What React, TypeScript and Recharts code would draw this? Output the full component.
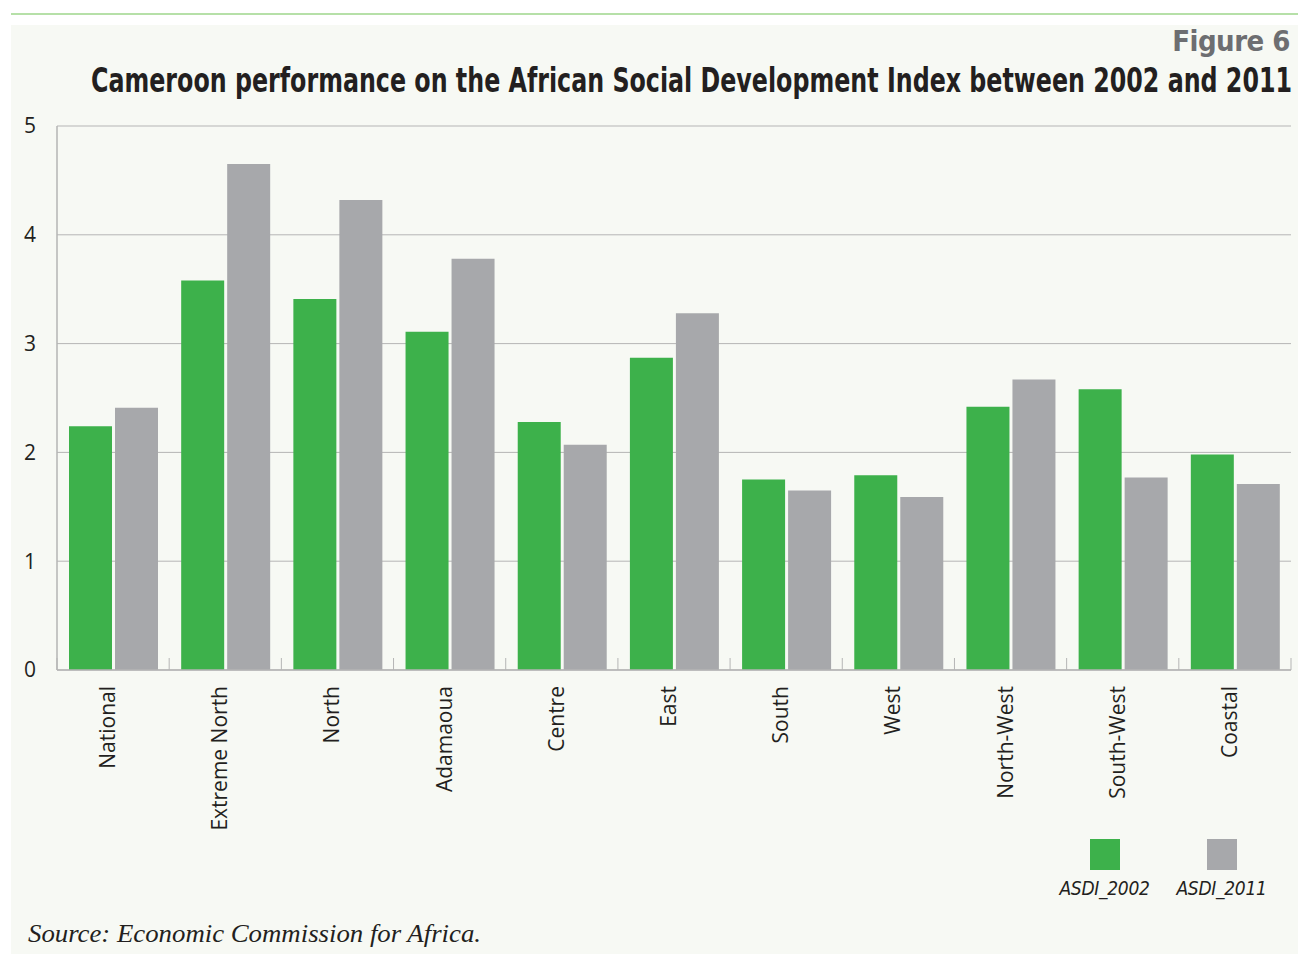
import React from "react";
import { BarChart, Bar, XAxis, YAxis, CartesianGrid } from "recharts";

const regions = [
  "National",
  "Extreme North",
  "North",
  "Adamaoua",
  "Centre",
  "East",
  "South",
  "West",
  "North-West",
  "South-West",
  "Coastal",
];
const asdi2002 = [2.24, 3.58, 3.41, 3.11, 2.28, 2.87, 1.75, 1.79, 2.42, 2.58, 1.98];
const asdi2011 = [2.41, 4.65, 4.32, 3.78, 2.07, 3.28, 1.65, 1.59, 2.67, 1.77, 1.71];
const yTicks = [0, 1, 2, 3, 4, 5];
const seriesNames = ["ASDI_2002", "ASDI_2011"];

const GREEN = "#3db14b";
const GREY = "#a7a8ab";
const AXIS = "#b5b5b5";
const INK = "#231f20";
const SANS = "'Open Sans', 'Noto Sans', sans-serif";
const NARROW = "'Liberation Sans Narrow', 'DejaVu Sans Condensed', sans-serif";
const seriesColors = [GREEN, GREY];
const LABEL_GAP = 16;
const SEP_TICK = 12;

const data = regions.map((region, i) => ({
  region,
  asdi2002: asdi2002[i],
  asdi2011: asdi2011[i],
}));

interface TickProps {
  x?: number;
  y?: number;
  width?: number;
  index?: number;
  visibleTicksCount?: number;
  payload?: { value: string; offset?: number };
}

// rotated region name + the small upward separator ticks between categories
const RegionTick = ({ x = 0, y = 0, width = 0, index = 0, visibleTicksCount = 1, payload }: TickProps) => {
  const half = payload?.offset ?? width / visibleTicksCount / 2;
  const axisY = y - LABEL_GAP;
  return (
    <g>
      <line x1={x - half} x2={x - half} y1={axisY} y2={axisY - SEP_TICK} stroke={AXIS} strokeWidth={1} />
      {index === visibleTicksCount - 1 && (
        <line x1={x + half} x2={x + half} y1={axisY} y2={axisY - SEP_TICK} stroke={AXIS} strokeWidth={1} />
      )}
      <text
        transform={`translate(${x - 6},${y}) rotate(-90)`}
        textAnchor="end"
        dominantBaseline="central"
        fontSize={21}
        fontFamily={SANS}
        fill={INK}
      >
        {payload?.value}
      </text>
    </g>
  );
};

// legend sits bottom right, squares above italic labels
const ChartLegend = () => (
  <div style={{ position: "absolute", left: 1046, top: 839, display: "flex" }}>
    {seriesNames.map((name, i) => (
      <div
        key={name}
        style={{ width: 117, display: "flex", flexDirection: "column", alignItems: "center" }}
      >
        <div style={{ width: 30, height: 31, background: seriesColors[i] }} />
        <span
          style={{
            marginTop: 8,
            fontFamily: NARROW,
            fontStyle: "italic",
            fontSize: 19,
            lineHeight: "21px",
            color: INK,
            letterSpacing: -0.3,
          }}
        >
          {name}
        </span>
      </div>
    ))}
  </div>
);

const App = () => {
  return (
    <div
      style={{
        position: "absolute",
        left: 0,
        top: 0,
        width: 1298,
        height: 954,
        background: "#ffffff",
        overflow: "hidden",
      }}
    >
      <div style={{ position: "absolute", left: 11, top: 13, width: 1287, height: 2, background: "#b6e0a8" }} />
      <div style={{ position: "absolute", left: 11, top: 25, width: 1287, height: 929, background: "#f7f9f4" }} />

      <div
        style={{
          position: "absolute",
          right: 8,
          top: 24,
          fontFamily: NARROW,
          fontWeight: "bold",
          fontSize: 29,
          lineHeight: "34px",
          color: "#6d6e71",
          letterSpacing: -0.5,
          whiteSpace: "nowrap",
        }}
      >
        Figure 6
      </div>

      <div style={{ position: "absolute", left: 0, top: 0 }}>
        <BarChart
          width={1298}
          height={954}
          data={data}
          margin={{ top: 126, right: 7, bottom: 283, left: 0 }}
          barCategoryGap={12}
          barGap={3}
        >
          <CartesianGrid horizontal vertical={false} stroke={AXIS} strokeWidth={1} />
          <XAxis
            dataKey="region"
            height={1}
            interval={0}
            axisLine={{ stroke: AXIS, strokeWidth: 1.5 }}
            tickLine={false}
            tickSize={0}
            tickMargin={LABEL_GAP}
            tick={<RegionTick />}
          />
          <YAxis
            width={57}
            domain={[0, 5]}
            ticks={yTicks}
            interval={0}
            axisLine={{ stroke: AXIS, strokeWidth: 1.5 }}
            tickLine={false}
            tickMargin={15}
            tick={{ fontSize: 21, fill: INK, fontFamily: SANS }}
          />
          <Bar dataKey="asdi2002" name={seriesNames[0]} fill={GREEN} isAnimationActive={false} />
          <Bar dataKey="asdi2011" name={seriesNames[1]} fill={GREY} isAnimationActive={false} />
        </BarChart>
      </div>

      <ChartLegend />

      <svg
        width={1298}
        height={954}
        style={{ position: "absolute", left: 0, top: 0, pointerEvents: "none" }}
      >
        <text
          transform="translate(91 92) scale(0.76 1)"
          fontFamily={NARROW}
          fontWeight="bold"
          fontSize={34}
          fill={INK}
          textLength={1201 / 0.76}
          lengthAdjust="spacingAndGlyphs"
        >
          Cameroon performance on the African Social Development Index between 2002 and 2011
        </text>
        <text
          x={28}
          y={942}
          fontFamily="'Liberation Serif', 'DejaVu Serif', serif"
          fontStyle="italic"
          fontSize={25}
          fill={INK}
          textLength={453}
          lengthAdjust="spacingAndGlyphs"
        >
          Source: Economic Commission for Africa.
        </text>
      </svg>
    </div>
  );
};

export default App;
